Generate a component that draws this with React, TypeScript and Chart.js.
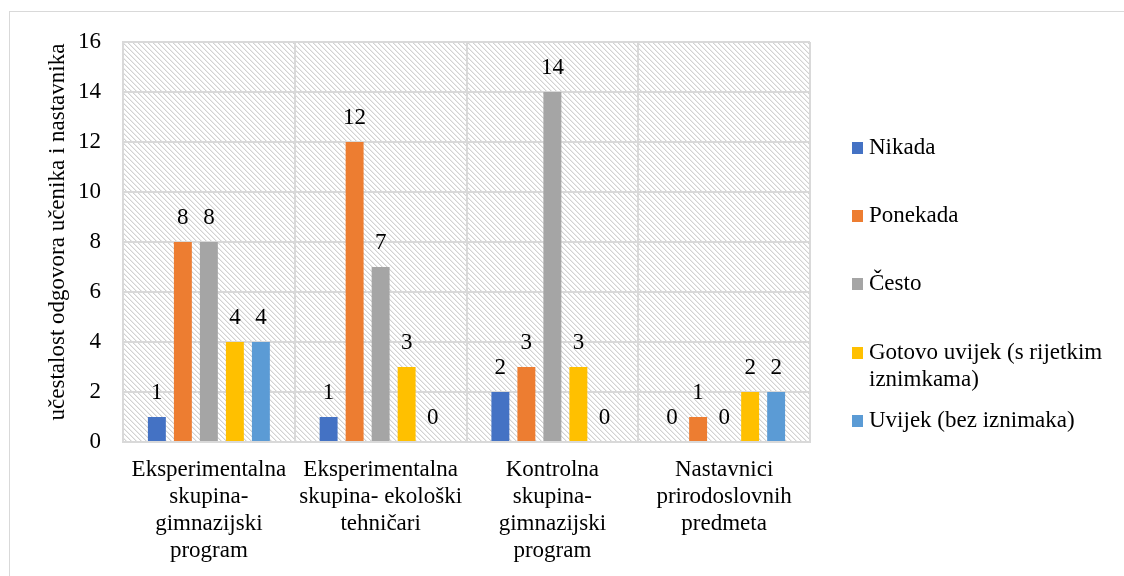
import React, { useEffect, useRef } from "react";
import { Chart, registerables } from "chart.js";

Chart.register(...registerables);

// ---------- data ----------
const categories: string[][] = [
  ["Eksperimentalna", "skupina-", "gimnazijski", "program"],
  ["Eksperimentalna", "skupina- ekološki", "tehničari"],
  ["Kontrolna", "skupina-", "gimnazijski", "program"],
  ["Nastavnici", "prirodoslovnih", "predmeta"],
];
const seriesNames = [
  "Nikada",
  "Ponekada",
  "Često",
  "Gotovo uvijek (s rijetkim iznimkama)",
  "Uvijek (bez iznimaka)",
];
const legendLines: string[][] = [
  ["Nikada"],
  ["Ponekada"],
  ["Često"],
  ["Gotovo uvijek (s rijetkim", "iznimkama)"],
  ["Uvijek (bez iznimaka)"],
];
const nikada = [1, 1, 2, 0];
const ponekada = [8, 12, 3, 1];
const cesto = [8, 7, 14, 0];
const gotovoUvijek = [4, 3, 3, 2];
const uvijek = [4, 0, 0, 2];
const seriesValues = [nikada, ponekada, cesto, gotovoUvijek, uvijek];
const colors = ["#4472C4", "#ED7D31", "#A5A5A5", "#FFC000", "#5B9BD5"];
const yMin = 0;
const yMax = 16;
const yStep = 2;
const yTitle = "učestalost odgovora učenika i nastavnika";

// ---------- style ----------
const FONT = "'Liberation Serif', 'Times New Roman', serif";
const FS = 23;
const GRID = "#d9d9d9";
const W = 1124;
const H = 576;
const legendY = [148, 216, 284, 353, 421];

function makePattern(ctx: CanvasRenderingContext2D) {
  const tile = document.createElement("canvas");
  tile.width = 5;
  tile.height = 5;
  const t = tile.getContext("2d")!;
  t.fillStyle = "#ffffff";
  t.fillRect(0, 0, 5, 5);
  for (let i = 0; i < 5; i++) {
    t.fillStyle = "#d2d2d2";
    t.fillRect(i, i, 1, 1);
    t.fillStyle = "#ececec";
    t.fillRect((i + 1) % 5, i, 1, 1);
  }
  return ctx.createPattern(tile, "repeat");
}

export default function App() {
  const ref = useRef<HTMLCanvasElement | null>(null);

  useEffect(() => {
    const canvas = ref.current!;
    const ctx0 = canvas.getContext("2d")!;
    const pattern = makePattern(ctx0);

    const decor = {
      id: "decor",
      beforeDraw(chart: any) {
        const { ctx, chartArea: a } = chart;
        ctx.save();
        ctx.fillStyle = "#ffffff";
        ctx.fillRect(0, 0, chart.width, chart.height);
        ctx.strokeStyle = GRID;
        ctx.lineWidth = 1;
        ctx.strokeRect(9.5, 11.5, chart.width + 40, chart.height + 40);
        ctx.fillStyle = pattern as any;
        ctx.fillRect(a.left, a.top, a.right - a.left, a.bottom - a.top);
        ctx.restore();
      },
      afterDatasetsDraw(chart: any) {
        const { ctx } = chart;
        ctx.save();
        ctx.font = `${FS}px ${FONT}`;
        ctx.fillStyle = "#000";
        ctx.textAlign = "center";
        ctx.textBaseline = "middle";
        chart.data.datasets.forEach((ds: any, i: number) => {
          const meta = chart.getDatasetMeta(i);
          meta.data.forEach((el: any, j: number) => {
            ctx.fillText(String(ds.data[j]), el.x, el.y - 24);
          });
        });
        ctx.restore();
      },
      afterDraw(chart: any) {
        const { ctx } = chart;
        ctx.save();
        ctx.font = `${FS}px ${FONT}`;
        ctx.fillStyle = "#000";
        // y axis title
        ctx.save();
        ctx.translate(58, 232);
        ctx.rotate(-Math.PI / 2);
        ctx.textAlign = "center";
        ctx.textBaseline = "middle";
        ctx.fillText(yTitle, 0, 0);
        ctx.restore();
        // legend
        ctx.textAlign = "left";
        ctx.textBaseline = "middle";
        legendLines.forEach((lines, i) => {
          const y = legendY[i];
          ctx.fillStyle = colors[i];
          ctx.fillRect(852, y - 6, 11, 12);
          ctx.fillStyle = "#000";
          lines.forEach((ln, k) => {
            ctx.fillText(ln, 869, y + k * 27);
          });
        });
        ctx.restore();
      },
    };

    const chart = new Chart(canvas, {
      type: "bar",
      data: {
        labels: categories as any,
        datasets: seriesValues.map((vals, i) => ({
          label: seriesNames[i],
          data: vals,
          backgroundColor: colors[i],
          borderWidth: 0,
          categoryPercentage: 0.757,
          barPercentage: 0.69,
        })),
      },
      options: {
        responsive: false,
        animation: false,
        devicePixelRatio: 1,
        layout: { padding: { left: 0, top: 42, right: W - 810, bottom: 0 } },
        plugins: {
          legend: { display: false },
          tooltip: { enabled: false },
        },
        scales: {
          x: {
            grid: { color: GRID, lineWidth: 2, drawTicks: false, offset: true },
            border: { color: GRID, width: 2 },
            ticks: {
              color: "#000",
              font: { family: FONT, size: FS, lineHeight: 27 / FS },
              padding: 14,
              maxRotation: 0,
              autoSkip: false,
            },
            afterFit(s: any) {
              s.height = H - 442;
            },
          },
          y: {
            min: yMin,
            max: yMax,
            grid: { color: GRID, lineWidth: 2, drawTicks: false },
            border: { color: GRID, width: 2 },
            ticks: {
              stepSize: yStep,
              color: "#000",
              font: { family: FONT, size: FS },
              padding: 22,
            },
            afterFit(s: any) {
              s.width = 123;
            },
          },
        },
      },
      plugins: [decor],
    } as any);

    return () => chart.destroy();
  }, []);

  return (
    <div style={{ position: "fixed", left: 0, top: 0, width: W, height: H, background: "#fff" }}>
      <canvas ref={ref} width={W} height={H} style={{ display: "block", width: W, height: H }} />
    </div>
  );
}
